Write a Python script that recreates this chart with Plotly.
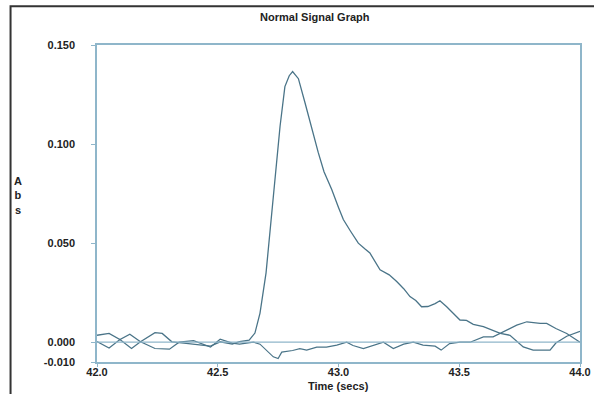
import plotly.graph_objects as go

# ---- data ----
signal_t = [42.000, 42.05, 42.095, 42.136, 42.18, 42.24, 42.27, 42.31, 42.36, 42.42,
            42.47, 42.51, 42.56, 42.59, 42.63, 42.654, 42.675, 42.70, 42.73, 42.758,
            42.778, 42.796, 42.81, 42.834, 42.861, 42.882, 42.916, 42.94, 42.972, 43.00,
            43.02, 43.05, 43.082, 43.11, 43.13, 43.172, 43.21, 43.241, 43.27, 43.296,
            43.32, 43.344, 43.37, 43.40, 43.42, 43.448, 43.47, 43.503, 43.53, 43.558,
            43.60, 43.65, 43.67, 43.71, 43.765, 43.806, 43.876, 43.90, 43.945, 44.0]
signal_v = [0.0035, 0.0044, 0.0013, 0.0040, 0.0002, 0.0048, 0.0044, 0.0002, -0.0005, -0.0012,
            -0.0020, 0.0002, -0.0010, 0.0003, 0.0010, 0.0046, 0.0147, 0.0350, 0.0754, 0.1090,
            0.1290, 0.1345, 0.1366, 0.1330, 0.1210, 0.1110, 0.0958, 0.0860, 0.0771, 0.0680,
            0.0619, 0.0560, 0.0500, 0.0470, 0.0450, 0.0365, 0.0340, 0.0306, 0.0270, 0.0230,
            0.0210, 0.0179, 0.0180, 0.0195, 0.0209, 0.0179, 0.0154, 0.0112, 0.0110, 0.0090,
            0.0078, 0.0052, 0.0044, 0.0035, -0.0024, -0.0040, -0.0040, -0.0004, 0.0030, 0.0055]

blank_t = [42.000, 42.05, 42.095, 42.143, 42.18, 42.24, 42.30, 42.34, 42.40, 42.47,
           42.51, 42.56, 42.59, 42.648, 42.675, 42.70, 42.73, 42.75, 42.765, 42.81,
           42.84, 42.868, 42.91, 42.95, 42.993, 43.034, 43.06, 43.103, 43.145, 43.186,
           43.227, 43.27, 43.31, 43.35, 43.40, 43.425, 43.46, 43.503, 43.545, 43.60,
           43.64, 43.68, 43.738, 43.78, 43.835, 43.862, 43.90, 43.945, 44.0]
blank_v = [0.0003, -0.0029, 0.0013, -0.0032, 0.0002, -0.0032, -0.0035, 0.0000, 0.0008, -0.0025,
           0.0015, -0.0005, -0.0010, 0.0000, -0.0010, -0.0040, -0.0074, -0.0083, -0.0050, -0.0042,
           -0.0033, -0.0040, -0.0025, -0.0025, -0.0015, 0.0000, -0.0017, -0.0032, -0.0015, 0.0000,
           -0.0032, -0.0010, 0.0000, -0.0015, -0.0020, -0.0040, -0.0007, 0.0000, 0.0000, 0.0027,
           0.0027, 0.0052, 0.0086, 0.0103, 0.0095, 0.0095, 0.0069, 0.0044, 0.0000]

x_ticks = [42.0, 42.5, 43.0, 43.5, 44.0]
x_labels = ["42.0", "42.5", "43.0", "43.5", "44.0"]
y_ticks = [-0.010, 0.000, 0.050, 0.100, 0.150]
y_labels = ["-0.010", "0.000", "0.050", "0.100", "0.150"]

line_col = "#4a7488"
axis_col = "#8fb6ca"
text_col = "#222222"
font_fam = "Liberation Sans, Arial, sans-serif"

fig = go.Figure()
fig.add_trace(go.Scatter(x=blank_t, y=blank_v, mode="lines",
                         line=dict(color=line_col, width=1.2), showlegend=False))
fig.add_trace(go.Scatter(x=signal_t, y=signal_v, mode="lines",
                         line=dict(color=line_col, width=1.3), showlegend=False))

# zero baseline
fig.add_hline(y=0, line=dict(color=axis_col, width=1.3))

# outer frame of the picture
fig.add_shape(type="rect", xref="paper", yref="paper",
              x0=-0.179, x1=1.1, y0=-0.15, y1=1.122,
              line=dict(color="#333333", width=2), fillcolor="rgba(0,0,0,0)")

fig.update_layout(
    width=594, height=394,
    margin=dict(l=97, r=14, t=45, b=32, autoexpand=False),
    paper_bgcolor="white", plot_bgcolor="white",
    font=dict(family=font_fam, size=11, color=text_col),
    title=dict(text="<b>Normal Signal Graph</b>", xref="container", x=0.53, xanchor="center",
               yref="container", y=0.957, yanchor="middle", font=dict(size=11, color=text_col)),
)

fig.update_xaxes(range=[42.0, 44.0], tickvals=x_ticks, ticktext=["<b>%s</b>" % s for s in x_labels],
                 showgrid=False, zeroline=False, showline=True, mirror=True,
                 linecolor=axis_col, linewidth=1.5, automargin=False,
                 ticks="outside", ticklen=3, tickcolor=axis_col, tickwidth=1.2,
                 ticklabelstandoff=-4,
                 tickfont=dict(size=11, color=text_col))
fig.update_yaxes(range=[-0.010, 0.150], tickvals=y_ticks, ticktext=["<b>%s</b>" % s for s in y_labels],
                 showgrid=False, zeroline=False, showline=True, mirror=True,
                 linecolor=axis_col, linewidth=1.5, automargin=False,
                 ticks="outside", ticklen=4, tickcolor=axis_col, tickwidth=1.2,
                 ticklabelstandoff=14,
                 tickfont=dict(size=11, color=text_col))

fig.add_annotation(text="<b>Time (secs)</b>", xref="paper", yref="paper",
                   x=0.5, y=-0.076, xanchor="center", yanchor="middle",
                   showarrow=False, font=dict(size=11, color=text_col))
fig.add_annotation(text="<b>A<br>b<br>s</b>", xref="paper", yref="paper",
                   x=-0.163, y=0.524, xanchor="center", yanchor="middle",
                   showarrow=False, font=dict(size=11, color=text_col))

fig.write_html("out.html")
